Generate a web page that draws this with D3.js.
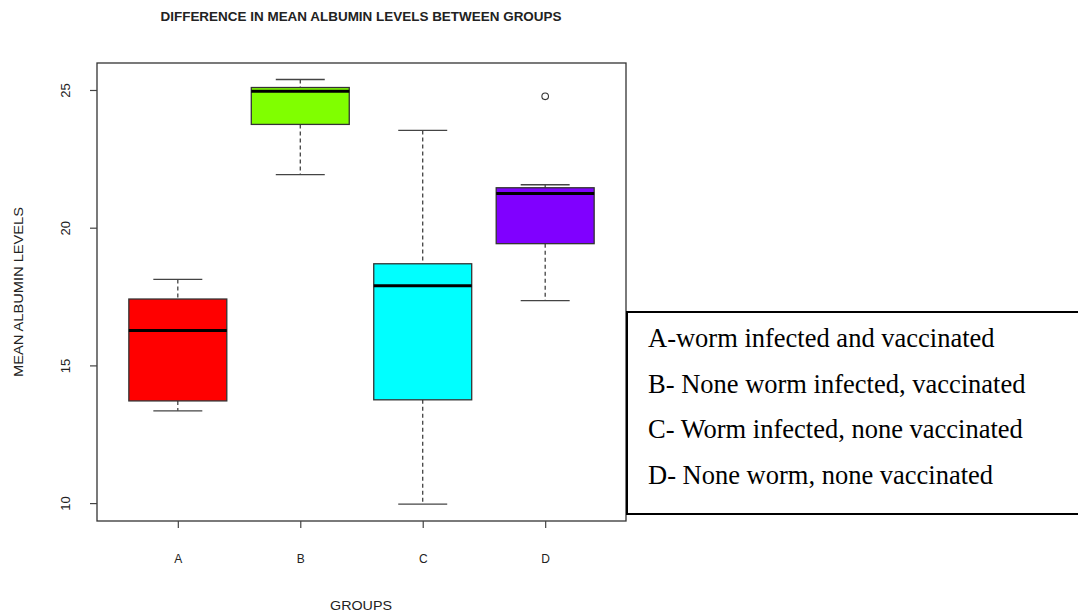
<!DOCTYPE html>
<html>
<head>
<meta charset="utf-8">
<script src="https://cdn.jsdelivr.net/npm/d3@7"></script>
<style>
  body { margin: 0; background: #fff; }
  svg { display: block; }
  .lab { font-family: "Liberation Sans", Arial, sans-serif; fill: #222; }
</style>
</head>
<body>
<svg id="chart" width="1078" height="614"></svg>
<script>
// data
var groups = ['A', 'B', 'C', 'D'];
var colors = ['#ff0000', '#80ff00', '#00ffff', '#8000ff'];
var mins    = [13.35, 21.93,  9.96, 17.35];
var q1s     = [13.71, 23.75, 13.75, 19.42];
var medians = [16.27, 24.95, 17.89, 21.24];
var q3s     = [17.41, 25.09, 18.69, 21.45];
var maxs    = [18.12, 25.38, 23.53, 21.56];
var outliers = [[], [], [], [24.77]];
var yTicks = [10, 15, 20, 25];
var legendLines = [
  'A-worm infected and vaccinated',
  'B- None worm infected, vaccinated',
  'C- Worm infected, none vaccinated',
  'D- None worm, none vaccinated'
];

var svg = d3.select('#chart');

var pLeft = 97, pRight = 626, pTop = 63, pBottom = 521;

var x = d3.scaleLinear().domain([0.34, 4.66]).range([pLeft, pRight]);
var y = d3.scaleLinear().domain([9.35, 25.98]).range([pBottom, pTop]);

var boxW = 0.8, capW = 0.4;

// title
svg.append('text')
  .attr('class', 'lab')
  .attr('x', 361).attr('y', 21)
  .attr('text-anchor', 'middle')
  .attr('textLength', 401).attr('lengthAdjust', 'spacingAndGlyphs')
  .style('font-size', '12px').style('font-weight', 'bold')
  .text('DIFFERENCE IN MEAN ALBUMIN LEVELS BETWEEN GROUPS');

// boxes
var data = groups.map(function(g, i) {
  return {g: g, i: i + 1, col: colors[i], min: mins[i], q1: q1s[i], med: medians[i], q3: q3s[i], max: maxs[i], out: outliers[i]};
});

var bx = svg.append('g').selectAll('g').data(data).enter().append('g');

// whiskers (dashed)
bx.append('line')
  .attr('x1', function(d) { return x(d.i); }).attr('x2', function(d) { return x(d.i); })
  .attr('y1', function(d) { return y(d.max); }).attr('y2', function(d) { return y(d.q3); })
  .attr('stroke', '#333').attr('stroke-width', 1.2).attr('stroke-dasharray', '4,3');
bx.append('line')
  .attr('x1', function(d) { return x(d.i); }).attr('x2', function(d) { return x(d.i); })
  .attr('y1', function(d) { return y(d.q1); }).attr('y2', function(d) { return y(d.min); })
  .attr('stroke', '#333').attr('stroke-width', 1.2).attr('stroke-dasharray', '4,3');

// caps
['max', 'min'].forEach(function(k) {
  bx.append('line')
    .attr('x1', function(d) { return x(d.i - capW / 2); }).attr('x2', function(d) { return x(d.i + capW / 2); })
    .attr('y1', function(d) { return y(d[k]); }).attr('y2', function(d) { return y(d[k]); })
    .attr('stroke', '#444').attr('stroke-width', 1.3);
});

bx.append('rect')
  .attr('x', function(d) { return x(d.i - boxW / 2); })
  .attr('width', function(d) { return x(d.i + boxW / 2) - x(d.i - boxW / 2); })
  .attr('y', function(d) { return y(d.q3); })
  .attr('height', function(d) { return y(d.q1) - y(d.q3); })
  .attr('fill', function(d) { return d.col; })
  .attr('stroke', '#333').attr('stroke-width', 1.3);

bx.append('line')
  .attr('x1', function(d) { return x(d.i - boxW / 2); }).attr('x2', function(d) { return x(d.i + boxW / 2); })
  .attr('y1', function(d) { return y(d.med); }).attr('y2', function(d) { return y(d.med); })
  .attr('stroke', '#000').attr('stroke-width', 3);

bx.selectAll('circle').data(function(d) { return d.out.map(function(v) { return {i: d.i, v: v}; }); })
  .enter().append('circle')
  .attr('cx', function(d) { return x(d.i); })
  .attr('cy', function(d) { return y(d.v); })
  .attr('r', 3.3)
  .attr('fill', 'none').attr('stroke', '#333').attr('stroke-width', 1.1);

// plot frame
svg.append('rect')
  .attr('x', pLeft).attr('y', pTop)
  .attr('width', pRight - pLeft).attr('height', pBottom - pTop)
  .attr('fill', 'none').attr('stroke', '#333').attr('stroke-width', 1.3);

// y axis
var yAxis = svg.append('g')
  .attr('transform', 'translate(' + pLeft + ',0)')
  .call(d3.axisLeft(y).tickValues(yTicks).tickSize(7).tickSizeOuter(0));
yAxis.select('.domain').remove();
yAxis.selectAll('.tick line').attr('stroke', '#444').attr('stroke-width', 1.2);
yAxis.selectAll('.tick text')
  .attr('class', 'lab')
  .attr('x', 0).attr('y', 0).attr('dy', null)
  .attr('text-anchor', 'middle')
  .attr('transform', 'translate(-27,0) rotate(-90)')
  .style('font-size', '13px').style('font-family', '"Liberation Sans", Arial, sans-serif');

// x axis
var xAxis = svg.append('g')
  .attr('transform', 'translate(0,' + pBottom + ')')
  .call(d3.axisBottom(x).tickValues([1, 2, 3, 4]).tickSize(7).tickSizeOuter(0)
    .tickFormat(function(d) { return groups[d - 1]; }));
xAxis.select('.domain').remove();
xAxis.selectAll('.tick line').attr('stroke', '#444').attr('stroke-width', 1.2);
xAxis.selectAll('.tick text')
  .attr('class', 'lab')
  .attr('y', 42).attr('dy', null)
  .style('font-size', '12px').style('font-family', '"Liberation Sans", Arial, sans-serif');

// axis titles
svg.append('text')
  .attr('class', 'lab')
  .attr('x', 361).attr('y', 610)
  .attr('text-anchor', 'middle')
  .attr('textLength', 62).attr('lengthAdjust', 'spacingAndGlyphs')
  .style('font-size', '13px')
  .text('GROUPS');
svg.append('text')
  .attr('class', 'lab')
  .attr('transform', 'translate(23,292) rotate(-90)')
  .attr('text-anchor', 'middle')
  .attr('textLength', 170).attr('lengthAdjust', 'spacingAndGlyphs')
  .style('font-size', '13px')
  .text('MEAN ALBUMIN LEVELS');

// legend box
svg.append('rect')
  .attr('x', 627).attr('y', 312)
  .attr('width', 460).attr('height', 202)
  .attr('fill', '#fff').attr('stroke', '#000').attr('stroke-width', 2);

svg.append('g').selectAll('text').data(legendLines).enter().append('text')
  .attr('x', 648)
  .attr('y', function(d, i) { return 347 + i * 45.7; })
  .style('font-family', '"Liberation Serif", "Times New Roman", serif')
  .style('font-size', '26.5px')
  .attr('fill', '#000')
  .text(function(d) { return d; });
</script>
</body>
</html>
